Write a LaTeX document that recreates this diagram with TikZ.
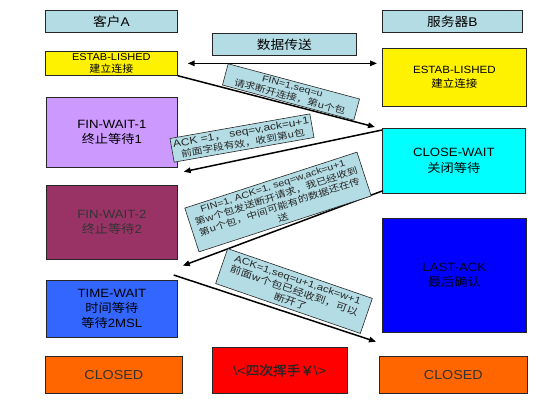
\documentclass[tikz,border=0pt]{standalone}
\usepackage{fontspec}
\setmainfont[FakeStretch=1.1]{Liberation Sans}
\newfontfamily\cjk[FakeStretch=1.1]{Noto Sans CJK SC}
\newfontfamily\mlat[FakeStretch=1.2]{Liberation Sans}
\newfontfamily\mcjk[FakeStretch=1.2]{Noto Sans CJK SC}
\newfontfamily\cjkb[FakeStretch=1.05,FakeBold=1.5]{Noto Sans CJK SC}
\newcommand\zh[1]{{\cjk #1}}
\newcommand\mz[1]{{\mcjk #1}}
\usetikzlibrary{arrows.meta,calc}
\definecolor{hdr}{HTML}{B4DCE4}
\definecolor{fwone}{HTML}{CC99FF}
\definecolor{fwtwo}{HTML}{993366}
\definecolor{twc}{HTML}{3366FF}
\definecolor{cwc}{HTML}{00FFFF}
\definecolor{lac}{HTML}{0000FF}
\definecolor{closedc}{HTML}{FF6600}
\definecolor{redc}{HTML}{FF0000}
\definecolor{darktxt}{HTML}{333333}
\begin{document}
\begin{tikzpicture}[x=1pt,y=-1pt,
  box/.style={draw=black!85, line width=0.7pt, inner sep=0pt, align=center, anchor=north west},
  lbl/.style={font=\fontsize{12}{15.5}\selectfont},
  msg/.style={draw=black!85, line width=0.6pt, fill=hdr, inner sep=0pt, align=center, text=black!85,
     font=\mlat\fontsize{9}{11}\selectfont},
  arr/.style={line width=1.5pt, -{Triangle[length=7pt,width=5.5pt]}}]
\useasboundingbox (0,0) rectangle (554,410);
% header boxes
\node[box, fill=hdr, minimum width=132, minimum height=22, font=\fontsize{12.5}{14}\selectfont] (hdrA) at (45,10) {\zh{客户}A};
\node[box, fill=hdr, minimum width=140, minimum height=22, font=\fontsize{12.5}{14}\selectfont] (hdrB) at (382,10) {\zh{服务器}B};
\node[box, fill=hdr, minimum width=144, minimum height=22, font=\fontsize{12.5}{14}\selectfont] (data) at (212,33) {\zh{数据传送}};
% state boxes
\node[box, fill=yellow, minimum width=132, minimum height=24, font=\fontsize{10}{11.5}\selectfont] (estA) at (45,51) {ESTAB-LISHED\\\zh{建立连接}};
\node[box, fill=yellow, minimum width=144, minimum height=58, font=\fontsize{10.5}{13.5}\selectfont] (estB) at (382,48) {ESTAB-LISHED\\\zh{建立连接}};
\node[box, lbl, fill=fwone, minimum width=131, minimum height=70] (fw1) at (46,97) {FIN-WAIT-1\\\zh{终止等待}1};
\node[box, lbl, fill=cwc, minimum width=143, minimum height=65] (cw) at (382,128) {CLOSE-WAIT\\\zh{关闭等待}};
\node[box, lbl, fill=fwtwo, text=darktxt, minimum width=131, minimum height=74] (fw2) at (46,185) {FIN-WAIT-2\\\zh{终止等待}2};
\node[box, lbl, fill=lac, text=black!90!blue, minimum width=144, minimum height=114] (la) at (382,218) {LAST-ACK\\\zh{最后确认}};
\node[box, fill=twc, minimum width=131, minimum height=57, font=\fontsize{12}{15}\selectfont] (tw) at (46,280) {TIME-WAIT\\\zh{时间等待}\\\zh{等待}2MSL};
\node[box, fill=closedc, text=darktxt, minimum width=137, minimum height=37, font=\fontsize{13}{15}\selectfont] (clA) at (45,356) {CLOSED};
\node[box, fill=redc, text=black!85, minimum width=135, minimum height=46, font=\fontsize{13}{15}\selectfont] (four) at (212,347) {\textbackslash<{\cjkb 四次挥手￥}\textbackslash>};
\node[box, fill=closedc, text=darktxt, minimum width=148, minimum height=37, font=\fontsize{13}{15}\selectfont] (clB) at (379,356) {CLOSED};
% arrow end points
\coordinate (a1s) at ($(estA.east)+(10,0)$);
\coordinate (a1e) at ($(estA.east -| estB.west)+(-5,0)$);
\coordinate (a2e) at ($(cw.north west)+(-7,-1)$);
\coordinate (a3s) at ($(cw.north west)+(0,2)$);
\coordinate (a3e) at ($(fw1.south east)+(6,4)$);
\coordinate (a4s) at ($(cw.south west)+(1,-3)$);
\coordinate (a4e) at ($(fw2.south east)+(5,6)$);
\coordinate (a5s) at ($(tw.north east)+(-4,-5)$);
\coordinate (a5e) at ($(la.south west)+(-6,9)$);
% arrows
\draw[line width=1.5pt, {Triangle[length=7pt,width=5.5pt]}-{Triangle[length=7pt,width=5.5pt]}] (a1s) -- (a1e);
\draw[arr] (estA.south east) -- (a2e);
\draw[arr] (a3s) -- (a3e);
\draw[arr] (a4s) -- (a4e);
\draw[arr] (a5s) -- (a5e);
% message boxes
\node[msg, rotate=-15, minimum width=136, minimum height=22] (m1) at (291,92)
  {FIN=1,seq=u\\\mz{请求断开连接，第u个包}};
\node[msg, rotate=10, minimum width=142, minimum height=24] (m2) at (242,138)
  {{\fontsize{10}{11}\selectfont ACK =1\mz{，} seq=v,ack=u+1}\\\mz{前面字段有效，收到第u包}};
\node[msg, rotate=18, minimum width=181, minimum height=46, font=\mlat\fontsize{9}{11}\selectfont] (m3) at (278,202)
  {FIN=1, ACK=1, seq=w,ack=u+1\\\mz{第w个包发送断开请求，我已经收到}\\\mz{第u个包，中间可能有的数据还在传}\\\mz{送}};
\node[msg, rotate=-19, minimum width=153, minimum height=37, font=\mlat\fontsize{9.5}{11.5}\selectfont] (m4) at (294,291)
  {ACK=1,seq=u+1,ack=w+1\\\mz{前面w个包已经收到，可以}\\\mz{断开了}};
\end{tikzpicture}
\end{document}
